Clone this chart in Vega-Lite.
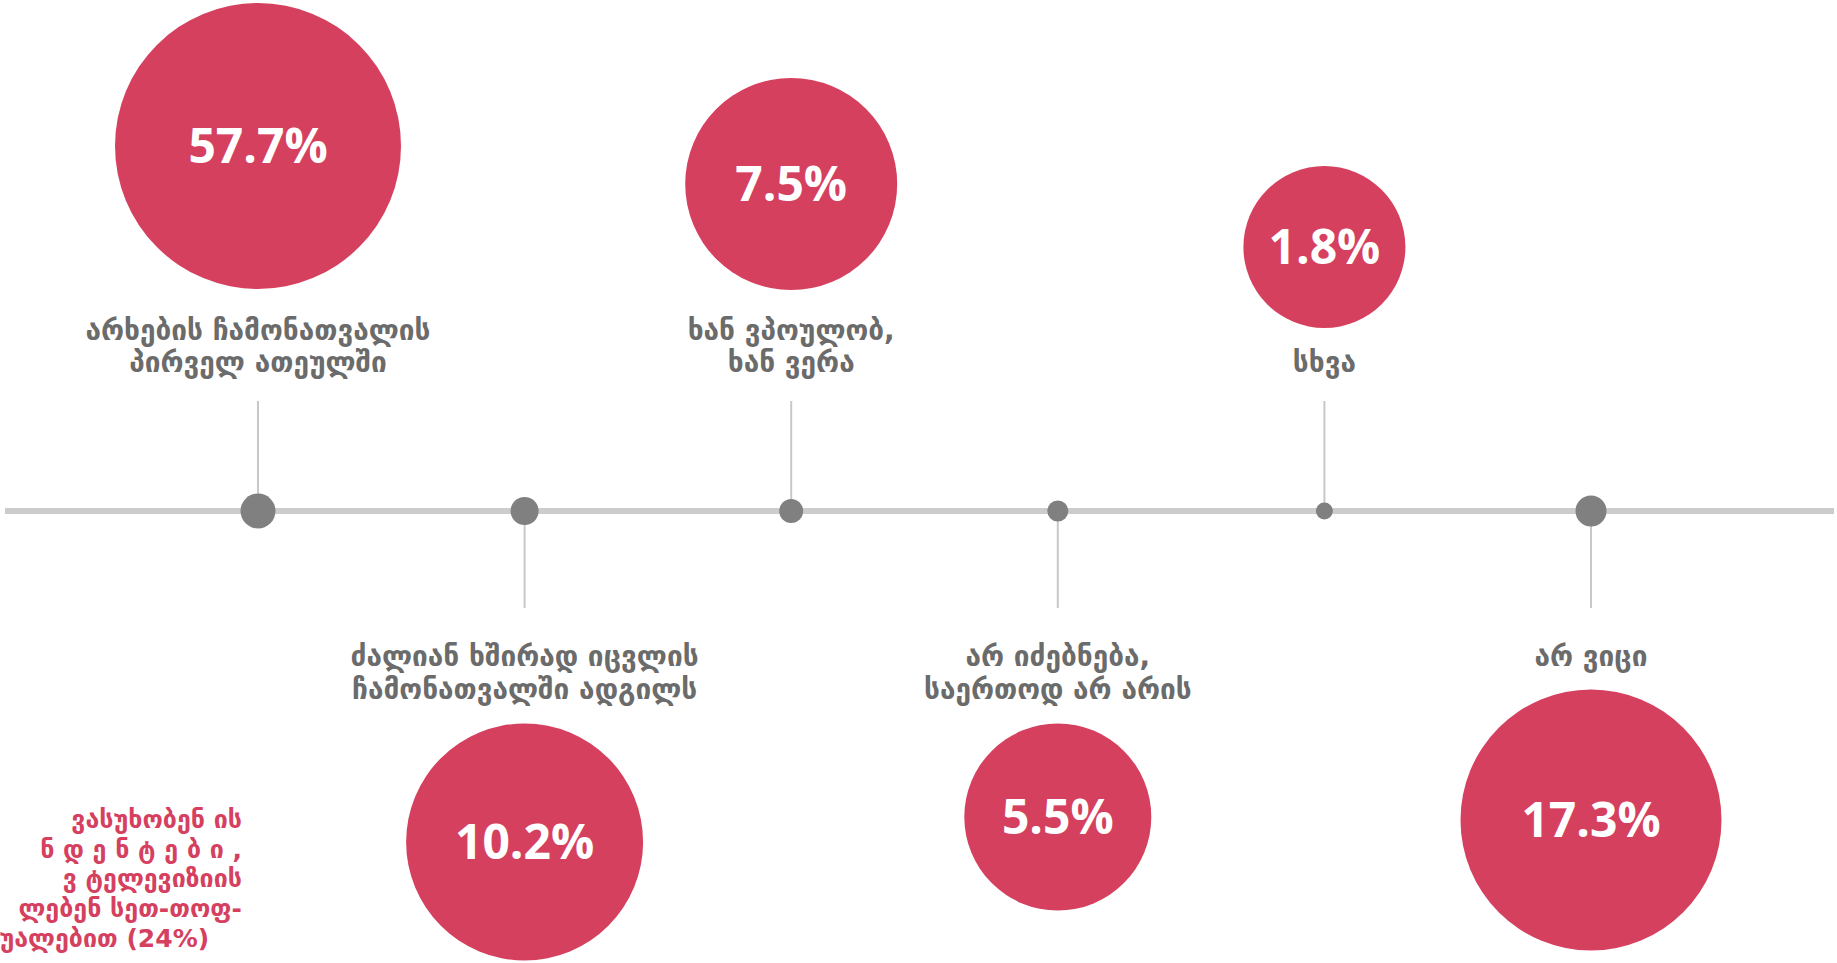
{
  "$schema": "https://vega.github.io/schema/vega-lite/v6.json",
  "width": 1837,
  "height": 963,
  "padding": 0,
  "autosize": {"type": "fit", "contains": "padding"},
  "background": "white",
  "config": {"view": {"stroke": null}},
  "data": {
    "values": [
      {"label": "არხების ჩამონათვალის\nპირველ ათეულში", "share": 0.577, "side": "above"},
      {"label": "ძალიან ხშირად იცვლის\nჩამონათვალში ადგილს", "share": 0.102, "side": "below"},
      {"label": "ხან ვპოულობ,\nხან ვერა", "share": 0.075, "side": "above"},
      {"label": "არ იძებნება,\nსაერთოდ არ არის", "share": 0.055, "side": "below"},
      {"label": "სხვა", "share": 0.018, "side": "above"},
      {"label": "არ ვიცი", "share": 0.173, "side": "below"}
    ]
  },
  "layer": [
    {
      "layer": [
        {
          "data": {"values": [{"axis": "timeline"}]},
          "mark": {"type": "rule", "color": "#cccccc", "strokeWidth": 6},
          "encoding": {"y": {"datum": 0, "type": "quantitative", "scale": {"domain": [-452, 511], "nice": false, "zero": false}, "axis": null}}
        },
        {
          "transform": [{"filter": "datum.side === 'above'"}],
          "mark": {"type": "rule", "color": "#c8c8c8", "strokeWidth": 2},
          "encoding": {
            "x": {"field": "label", "type": "nominal", "scale": {"type": "point", "padding": 0, "domain": ["არხების ჩამონათვალის\nპირველ ათეულში", "ძალიან ხშირად იცვლის\nჩამონათვალში ადგილს", "ხან ვპოულობ,\nხან ვერა", "არ იძებნება,\nსაერთოდ არ არის", "სხვა", "არ ვიცი"], "range": [253, 1586]}, "axis": null},
            "y": {"datum": 0, "type": "quantitative", "scale": {"domain": [-452, 511], "nice": false, "zero": false}, "axis": null},
            "y2": {"datum": 110}
          }
        },
        {
          "transform": [{"filter": "datum.side === 'below'"}],
          "mark": {"type": "rule", "color": "#c8c8c8", "strokeWidth": 2},
          "encoding": {
            "x": {"field": "label", "type": "nominal", "scale": {"type": "point", "padding": 0, "domain": ["არხების ჩამონათვალის\nპირველ ათეულში", "ძალიან ხშირად იცვლის\nჩამონათვალში ადგილს", "ხან ვპოულობ,\nხან ვერა", "არ იძებნება,\nსაერთოდ არ არის", "სხვა", "არ ვიცი"], "range": [253, 1586]}, "axis": null},
            "y": {"datum": 0, "type": "quantitative", "scale": {"domain": [-452, 511], "nice": false, "zero": false}, "axis": null},
            "y2": {"datum": -97}
          }
        },
        {
          "mark": {"type": "point", "shape": "circle", "filled": true, "color": "#808080", "opacity": 1},
          "encoding": {
            "x": {"field": "label", "type": "nominal", "scale": {"type": "point", "padding": 0, "domain": ["არხების ჩამონათვალის\nპირველ ათეულში", "ძალიან ხშირად იცვლის\nჩამონათვალში ადგილს", "ხან ვპოულობ,\nხან ვერა", "არ იძებნება,\nსაერთოდ არ არის", "სხვა", "არ ვიცი"], "range": [253, 1586]}, "axis": null},
            "y": {"datum": 0, "type": "quantitative", "scale": {"domain": [-452, 511], "nice": false, "zero": false}, "axis": null},
            "size": {"field": "share", "type": "quantitative", "legend": null, "scale": {"domain": [0.018, 0.055, 0.075, 0.102, 0.173, 0.577], "range": [289, 441, 576, 784, 961, 1225], "zero": false, "nice": false}}
          }
        },
        {
          "transform": [{"filter": "datum.side === 'above' && indexof(datum.label, '\\n') >= 0"}],
          "mark": {"type": "text", "lineBreak": "\n", "baseline": "bottom", "align": "center", "font": "DejaVu Sans", "fontWeight": "bold", "fontSize": 28, "lineHeight": 32, "color": "#6b6b6b"},
          "encoding": {
            "x": {"field": "label", "type": "nominal", "scale": {"type": "point", "padding": 0, "domain": ["არხების ჩამონათვალის\nპირველ ათეულში", "ძალიან ხშირად იცვლის\nჩამონათვალში ადგილს", "ხან ვპოულობ,\nხან ვერა", "არ იძებნება,\nსაერთოდ არ არის", "სხვა", "არ ვიცი"], "range": [253, 1586]}, "axis": null},
            "y": {"datum": 165, "type": "quantitative", "scale": {"domain": [-452, 511], "nice": false, "zero": false}, "axis": null},
            "text": {"field": "label", "type": "nominal"}
          }
        },
        {
          "transform": [{"filter": "datum.side === 'above' && indexof(datum.label, '\\n') < 0"}],
          "mark": {"type": "text", "lineBreak": "\n", "baseline": "bottom", "align": "center", "font": "DejaVu Sans", "fontWeight": "bold", "fontSize": 28, "lineHeight": 32, "color": "#6b6b6b"},
          "encoding": {
            "x": {"field": "label", "type": "nominal", "scale": {"type": "point", "padding": 0, "domain": ["არხების ჩამონათვალის\nპირველ ათეულში", "ძალიან ხშირად იცვლის\nჩამონათვალში ადგილს", "ხან ვპოულობ,\nხან ვერა", "არ იძებნება,\nსაერთოდ არ არის", "სხვა", "არ ვიცი"], "range": [253, 1586]}, "axis": null},
            "y": {"datum": 133, "type": "quantitative", "scale": {"domain": [-452, 511], "nice": false, "zero": false}, "axis": null},
            "text": {"field": "label", "type": "nominal"}
          }
        },
        {
          "transform": [{"filter": "datum.side === 'below'"}],
          "mark": {"type": "text", "lineBreak": "\n", "baseline": "top", "align": "center", "font": "DejaVu Sans", "fontWeight": "bold", "fontSize": 28, "lineHeight": 33, "color": "#6b6b6b"},
          "encoding": {
            "x": {"field": "label", "type": "nominal", "scale": {"type": "point", "padding": 0, "domain": ["არხების ჩამონათვალის\nპირველ ათეულში", "ძალიან ხშირად იცვლის\nჩამონათვალში ადგილს", "ხან ვპოულობ,\nხან ვერა", "არ იძებნება,\nსაერთოდ არ არის", "სხვა", "არ ვიცი"], "range": [253, 1586]}, "axis": null},
            "y": {"datum": -133, "type": "quantitative", "scale": {"domain": [-452, 511], "nice": false, "zero": false}, "axis": null},
            "text": {"field": "label", "type": "nominal"}
          }
        }
      ]
    },
    {
      "layer": [
        {
          "mark": {"type": "point", "shape": "circle", "filled": true, "color": "#d6405f", "opacity": 1},
          "encoding": {
            "size": {"field": "share", "type": "quantitative", "legend": null, "scale": {"domain": [0.018, 0.055, 0.075, 0.102, 0.173, 0.577], "range": [26244, 34969, 44944, 56169, 68121, 81796], "zero": false, "nice": false}}
          }
        },
        {
          "mark": {"type": "text", "align": "center", "baseline": "middle", "dy": 3, "font": "Open Sans", "fontWeight": "bold", "fontSize": 48, "color": "white"},
          "encoding": {
            "text": {"field": "share", "type": "quantitative", "format": ".1%"}
          }
        }
      ],
      "encoding": {
        "x": {"field": "label", "type": "nominal", "scale": {"type": "point", "padding": 0, "domain": ["არხების ჩამონათვალის\nპირველ ათეულში", "ძალიან ხშირად იცვლის\nჩამონათვალში ადგილს", "ხან ვპოულობ,\nხან ვერა", "არ იძებნება,\nსაერთოდ არ არის", "სხვა", "არ ვიცი"], "range": [253, 1586]}, "axis": null},
        "y": {"field": "share", "type": "quantitative", "axis": null, "scale": {"domain": [0.018, 0.055, 0.075, 0.102, 0.173, 0.577], "range": [247, 817, 184, 842, 820, 146], "zero": false, "nice": false}}
      }
    },
    {
      "layer": [
        {
          "data": {"values": [{"note": ["ვასუხობენ ის", "ნ დ ე ნ ტ ე ბ ი ,", "ვ ტელევიზიის", "ლებენ სეთ-თოფ-"]}]},
          "mark": {"type": "text", "align": "right", "baseline": "middle", "font": "DejaVu Sans", "fontWeight": "bold", "fontSize": 25, "lineHeight": 29.5, "color": "#d6405f"},
          "encoding": {
            "x": {"datum": 238, "type": "quantitative", "scale": {"domain": [0, 1837], "nice": false, "zero": false}, "axis": null},
            "y": {"datum": -309, "type": "quantitative", "scale": {"domain": [-452, 511], "nice": false, "zero": false}, "axis": null},
            "text": {"field": "note"}
          }
        },
        {
          "data": {"values": [{"note": "უალებით (24%)"}]},
          "mark": {"type": "text", "align": "right", "baseline": "middle", "font": "DejaVu Sans", "fontWeight": "bold", "fontSize": 25, "color": "#d6405f"},
          "encoding": {
            "x": {"datum": 205, "type": "quantitative", "scale": {"domain": [0, 1837], "nice": false, "zero": false}, "axis": null},
            "y": {"datum": -428, "type": "quantitative", "scale": {"domain": [-452, 511], "nice": false, "zero": false}, "axis": null},
            "text": {"field": "note"}
          }
        }
      ]
    }
  ],
  "resolve": {"scale": {"x": "independent", "y": "independent", "size": "independent"}}
}
